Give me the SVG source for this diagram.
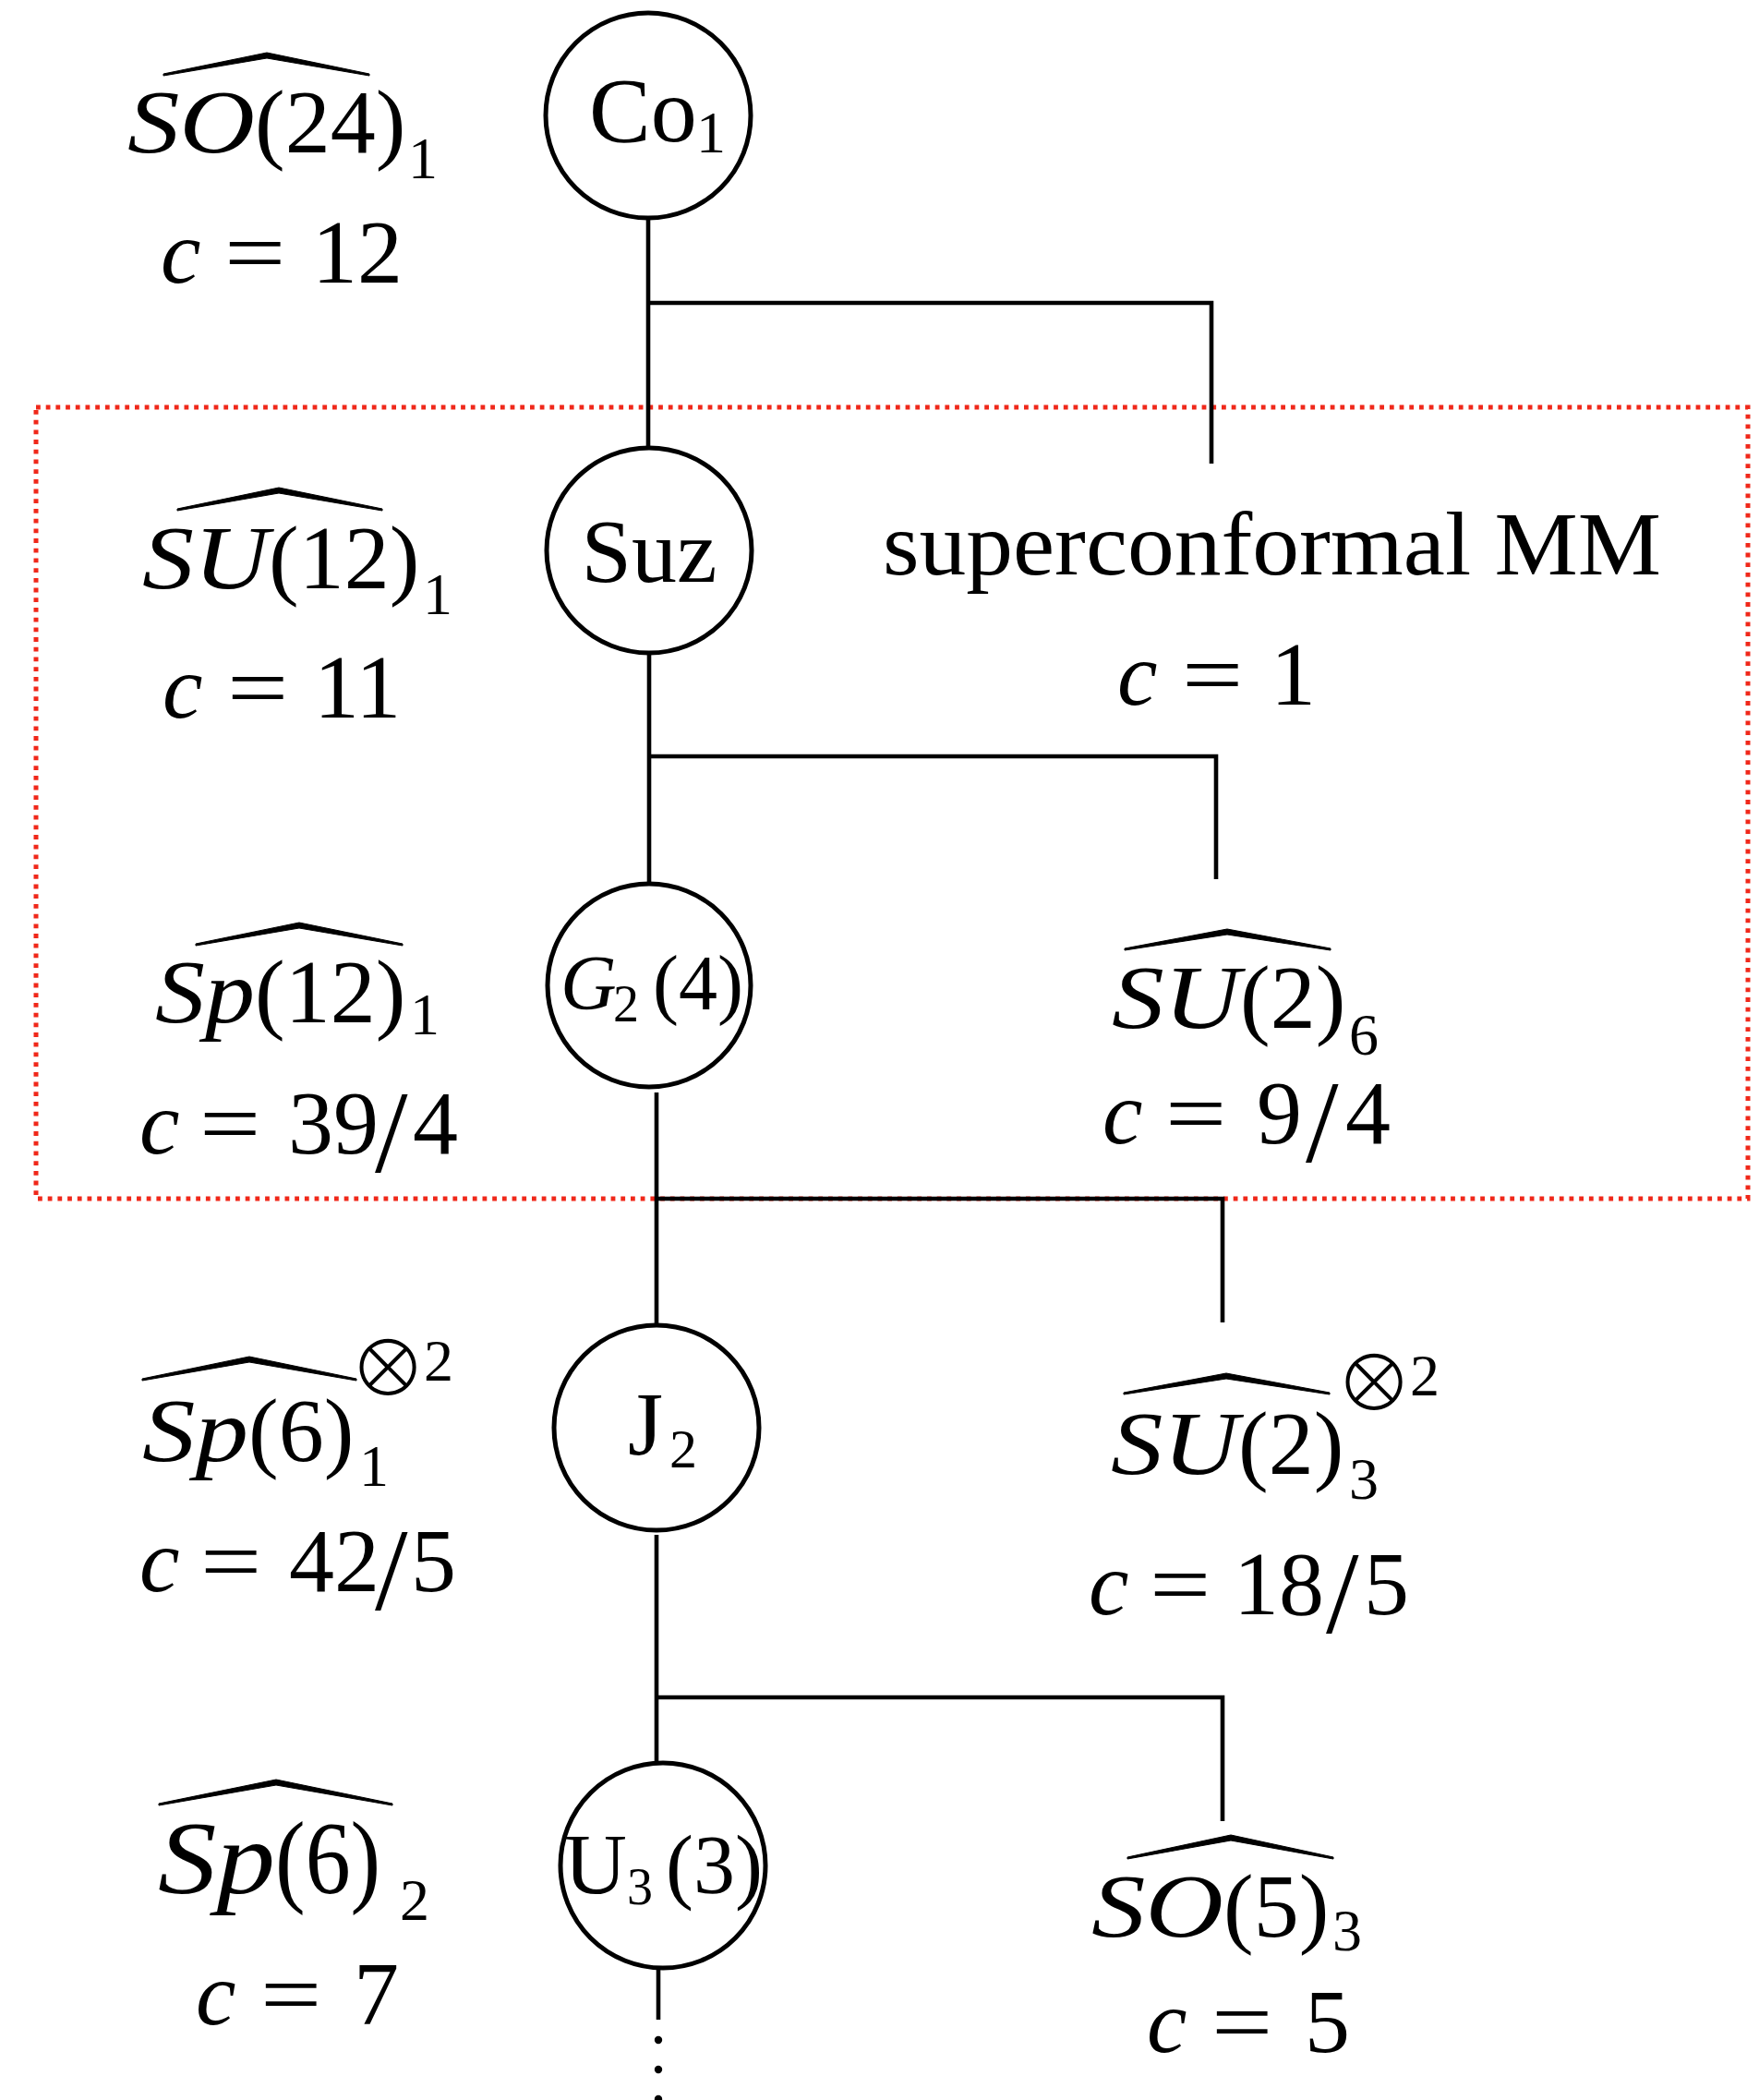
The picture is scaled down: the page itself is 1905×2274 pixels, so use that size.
<svg xmlns="http://www.w3.org/2000/svg" width="1905" height="2274" viewBox="0 0 1905 2274">
<style>
text{font-family:"Liberation Serif","Times New Roman",serif;fill:#000}
.m{font-size:98px}
.s{font-size:64px}
.i{font-style:italic}
.sl{font-size:128px}
.node{fill:#fff;stroke:#000;stroke-width:5}
.conn path{fill:none;stroke:#000;stroke-width:4.6}
.hat{fill:#000;stroke:#000;stroke-width:1;stroke-linejoin:round}
.otimes{font-family:"DejaVu Sans","DejaVu Serif",sans-serif;font-weight:200;font-size:104px;stroke:#fff;stroke-width:4;paint-order:fill stroke}
</style>
<defs>
<text id="eq" x="0" y="0" class="m">=</text>
</defs>
<rect id="region" x="39" y="441" width="1854" height="857" fill="none" stroke="#f0281a" stroke-width="5" stroke-dasharray="4.8 5.9"/>
<g id="connectors" class="conn">
<path d="M702,237 V485"/>
<path d="M702,328 H1312 V502"/>
<path d="M703,707 V957"/>
<path d="M703,819 H1317 V952"/>
<path d="M711,1183 V1435"/>
<path d="M711,1298 H1324 V1432"/>
<path d="M711,1662 V1909"/>
<path d="M711,1838 H1324 V1972"/>
<path d="M713,2133 V2187"/>
<circle cx="713" cy="2209" r="4.2" fill="#000"/>
<circle cx="713" cy="2241" r="4.2" fill="#000"/>
<circle cx="713" cy="2273" r="4.2" fill="#000"/>
</g>
<g id="node-Co1">
<circle class="node" cx="702" cy="125" r="111"/>
<text x="638" y="153" style="font-size:100px">Co</text>
<text x="754" y="165" class="s">1</text>
</g>
<g id="node-Suz">
<circle class="node" cx="703" cy="596" r="111"/>
<text x="703" y="630" text-anchor="middle" style="font-size:98px">Suz</text>
</g>
<g id="node-G2">
<circle class="node" cx="703" cy="1067" r="110"/>
<text x="607" y="1093" class="i" style="font-size:84px">G</text>
<text x="664" y="1106" style="font-size:56px">2</text>
<text x="707" y="1093" style="font-size:84px">(4)</text>
</g>
<g id="node-J2">
<circle class="node" cx="711" cy="1546" r="111"/>
<text x="680" y="1575" style="font-size:98px">J</text>
<text x="725" y="1589" style="font-size:60px">2</text>
</g>
<g id="node-U3">
<circle class="node" cx="718" cy="2020" r="111"/>
<text x="611" y="2050" style="font-size:94px">U</text>
<text x="679" y="2062" style="font-size:56px">3</text>
<text x="721" y="2050" style="font-size:90px">(3)</text>
</g>
<g id="label-SO24">
<path class="hat" d="M177,80 L289,57 L400,80 L400,82 L289,63 L177,82 Z"/>
<text x="138" y="165" class="m i" textLength="138" lengthAdjust="spacingAndGlyphs">SO</text>
<text x="276" y="165" class="m">(24)</text>
<text x="442" y="193" class="s">1</text>
<text x="174" y="306" class="m i">c</text>
<use href="#eq" transform="translate(243,306) scale(1.2,1)"/>
<text x="338" y="306" class="m">12</text>
</g>
<g id="label-SU12">
<path class="hat" d="M192,551 L302,528 L414,551 L414,553 L302,534 L192,553 Z"/>
<text x="154" y="637" class="m i" textLength="137" lengthAdjust="spacingAndGlyphs">SU</text>
<text x="291" y="637" class="m">(12)</text>
<text x="458" y="665" class="s">1</text>
<text x="176" y="777" class="m i">c</text>
<use href="#eq" transform="translate(246,777) scale(1.2,1)"/>
<text x="340" y="777" class="m">11</text>
</g>
<g id="label-MM">
<text x="956" y="622" class="m" textLength="843" lengthAdjust="spacingAndGlyphs">superconformal MM</text>
<text x="1210" y="763" class="m i">c</text>
<use href="#eq" transform="translate(1280,763) scale(1.2,1)"/>
<text x="1376" y="763" class="m">1</text>
</g>
<g id="label-Sp12">
<path class="hat" d="M212,1022 L324,999 L436,1022 L436,1024 L324,1005 L212,1024 Z"/>
<text x="168" y="1107" class="m i" textLength="108" lengthAdjust="spacingAndGlyphs">Sp</text>
<text x="276" y="1107" class="m">(12)</text>
<text x="444" y="1120" class="s">1</text>
<text x="151" y="1249" class="m i">c</text>
<use href="#eq" transform="translate(216,1249) scale(1.2,1)"/>
<text x="312" y="1249" class="m">39</text>
<text x="406" y="1269" class="sl">/</text>
<text x="447" y="1249" class="m">4</text>
</g>
<g id="label-SU2-6">
<path class="hat" d="M1218,1027 L1329,1006 L1441,1027 L1441,1029 L1329,1012 L1218,1029 Z"/>
<text x="1204" y="1113" class="m i" textLength="139" lengthAdjust="spacingAndGlyphs">SU</text>
<text x="1343" y="1113" class="m">(2)</text>
<text x="1461" y="1142" class="s">6</text>
<text x="1194" y="1238" class="m i">c</text>
<use href="#eq" transform="translate(1262,1238) scale(1.2,1)"/>
<text x="1361" y="1238" class="m">9</text>
<text x="1414" y="1258" class="sl">/</text>
<text x="1457" y="1238" class="m">4</text>
</g>
<g id="label-Sp6-1">
<path class="hat" d="M154,1493 L270,1469 L386,1493 L386,1495 L270,1475 L154,1495 Z"/>
<text x="154" y="1582" class="m i" textLength="115" lengthAdjust="spacingAndGlyphs">Sp</text>
<text x="269" y="1582" class="m">(6)</text>
<text x="389" y="1609" class="s">1</text>
<text x="420" y="1513" class="otimes" text-anchor="middle">⊗</text>
<text x="459" y="1495" class="s">2</text>
<text x="151" y="1723" class="m i">c</text>
<use href="#eq" transform="translate(217,1723) scale(1.2,1)"/>
<text x="313" y="1723" class="m">42</text>
<text x="406" y="1743" class="sl">/</text>
<text x="445" y="1723" class="m">5</text>
</g>
<g id="label-SU2-3">
<path class="hat" d="M1217,1508 L1328,1487 L1440,1508 L1440,1510 L1328,1493 L1217,1510 Z"/>
<text x="1203" y="1596" class="m i" textLength="138" lengthAdjust="spacingAndGlyphs">SU</text>
<text x="1341" y="1596" class="m">(2)</text>
<text x="1461" y="1623" class="s">3</text>
<text x="1488" y="1529" class="otimes" text-anchor="middle">⊗</text>
<text x="1527" y="1511" class="s">2</text>
<text x="1179" y="1748" class="m i">c</text>
<use href="#eq" transform="translate(1245,1748) scale(1.2,1)"/>
<text x="1336" y="1748" class="m">18</text>
<text x="1436" y="1768" class="sl">/</text>
<text x="1477" y="1748" class="m">5</text>
</g>
<g id="label-Sp6-2">
<path class="hat" d="M172,1953 L299,1927 L425,1953 L425,1955 L299,1933 L172,1955 Z"/>
<g transform="translate(0,2050) scale(1,1.15)">
<text x="171" y="0" class="m i" textLength="127" lengthAdjust="spacingAndGlyphs">Sp</text>
<text x="298" y="0" class="m">(6)</text>
</g>
<text x="433" y="2079" class="s">2</text>
<text x="212" y="2192" class="m i">c</text>
<use href="#eq" transform="translate(282,2192) scale(1.2,1)"/>
<text x="383" y="2192" class="m">7</text>
</g>
<g id="label-SO5-3">
<path class="hat" d="M1221,2011 L1333,1987 L1444,2011 L1444,2013 L1333,1993 L1221,2013 Z"/>
<text x="1182" y="2097" class="m i" textLength="143" lengthAdjust="spacingAndGlyphs">SO</text>
<text x="1325" y="2097" class="m">(5)</text>
<text x="1443" y="2112" class="s">3</text>
<text x="1242" y="2222" class="m i">c</text>
<use href="#eq" transform="translate(1312,2222) scale(1.2,1)"/>
<text x="1413" y="2222" class="m">5</text>
</g>
</svg>
